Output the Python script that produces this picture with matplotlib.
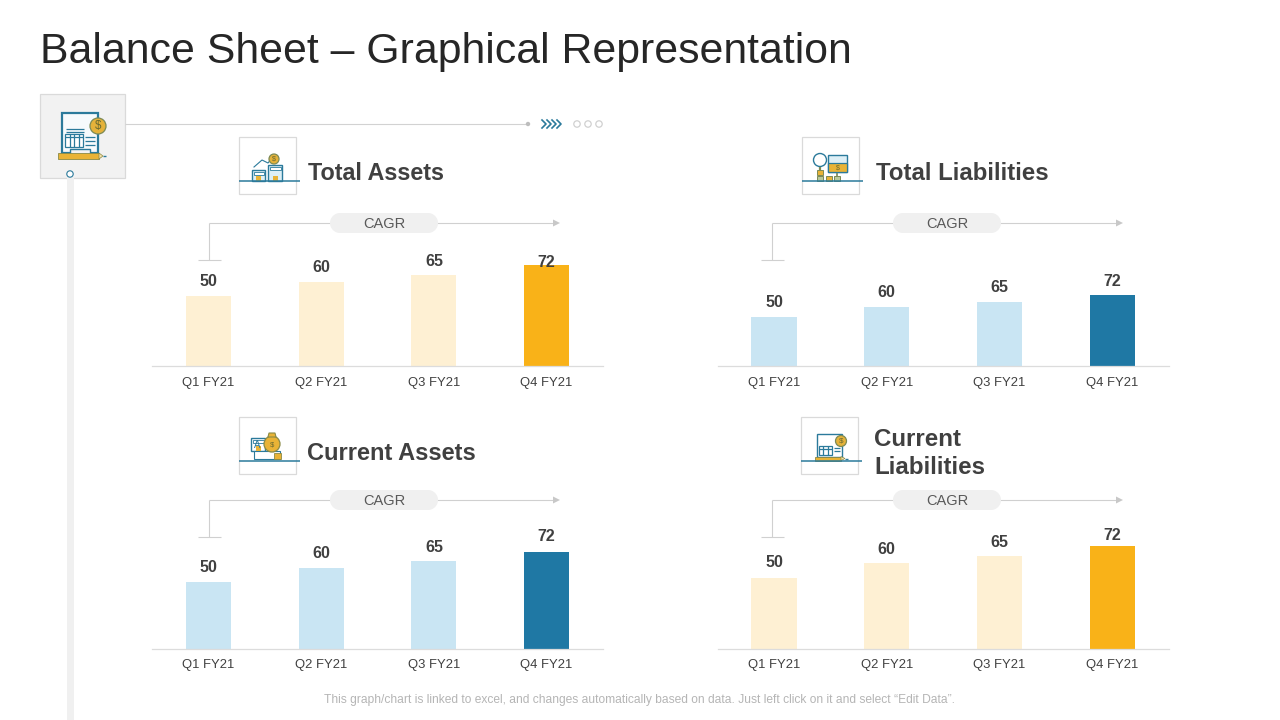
import matplotlib
matplotlib.use("Agg")
import matplotlib.pyplot as plt
from matplotlib.patches import Rectangle, Circle, Polygon

plt.rcParams['font.family'] = ['Liberation Sans', 'DejaVu Sans']

# Chart data
quarters = ["Q1 FY21", "Q2 FY21", "Q3 FY21", "Q4 FY21"]
total_assets = [50, 60, 65, 72]
total_liabilities = [50, 60, 65, 72]
current_assets = [50, 60, 65, 72]
current_liabilities = [50, 60, 65, 72]

GOLD = "#F9B218"
GOLD_LIGHT = "#FEF0D3"
BLUE = "#1F78A4"
BLUE_LIGHT = "#C9E5F3"
TEAL = "#2B7A9B"
TEXT = "#404040"
LINE = "#D4D4D4"

W, H = 1280, 720
fig = plt.figure(figsize=(12.8, 7.2), dpi=100, facecolor="white")

# Overlay in pixel coordinates for all the slide decoration
bg = fig.add_axes([0, 0, 1, 1])
bg.set_xlim(0, W)
bg.set_ylim(H, 0)
bg.axis("off")


def rect(x0, y0, x1, y1, fc="none", ec="none", lw=1.0, z=2):
    bg.add_patch(Rectangle((x0, y0), x1 - x0, y1 - y0, facecolor=fc, edgecolor=ec, linewidth=lw, zorder=z))


def line(xs, ys, color=LINE, lw=0.8, z=2):
    bg.plot(xs, ys, color=color, lw=lw, zorder=z, solid_capstyle="butt")


def coin(x, y, r):
    bg.add_patch(Circle((x, y), r, facecolor="#E5B23A", edgecolor="#7C8A55", linewidth=0.9, zorder=4))
    bg.text(x, y + 0.3, "$", ha="center", va="center", fontsize=r * 1.05, color="#6B6B30", zorder=5)


def document(x0, y0, x1, y1, lw=1.2, fc="#FFFFFF"):
    rect(x0, y0, x1, y1, fc=fc, ec=TEAL, lw=lw, z=3)


def pencil(x0, x1, y, h=3.0):
    rect(x0, y - h, x1, y + h, fc="#E9B336", ec="#8A8A45", lw=0.6, z=5)
    bg.add_patch(Polygon([(x1, y - h), (x1 + 4, y), (x1, y + h)], facecolor="#F4DFA8", edgecolor="#8A8A45", linewidth=0.5, zorder=5))
    line([x1 + 4, x1 + 7], [y, y], color=TEAL, lw=1.0, z=5)


def house(x0, y0, x1, y1, fc="#DDEFF6"):
    rect(x0, y0, x1, y1, fc=fc, ec=TEAL, lw=1.0, z=3)
    rect(x0 + 1.5, y0 + 2, x1 - 1.5, y0 + 5, fc="#FFFFFF", ec=TEAL, lw=0.6, z=4)
    rect((x0 + x1) / 2 - 2.5, y1 - 5, (x0 + x1) / 2 + 2.5, y1, fc="#E9B336", ec="none", z=4)


def bullet_lines(x0, x1, ys):
    for y in ys:
        line([x0, x1], [y, y], color=TEAL, lw=0.9, z=4)


def table(x0, y0, x1, y1, n=4):
    rect(x0, y0, x1, y1, fc="#FFFFFF", ec=TEAL, lw=0.9, z=4)
    step = (x1 - x0) / n
    for i in range(1, n):
        line([x0 + i * step] * 2, [y0, y1], color=TEAL, lw=0.9, z=4)
    line([x0, x1], [y0 + 3, y0 + 3], color=TEAL, lw=0.9, z=4)


def icon_frame(x0, y0):
    rect(x0, y0, x0 + 57, y0 + 57, fc="white", ec="#DADADA", lw=0.9)
    line([x0, x0 + 61], [y0 + 44, y0 + 44], color=TEAL, lw=1.1, z=6)


# Big report icon at the top of the timeline
rect(40, 94, 124.5, 178, fc="#F2F2F2", ec="#DADADA", lw=0.9)
document(61.5, 112.5, 98, 153, lw=1.6, fc="#F6FAFC")
rect(66, 117, 84, 125, fc="#E9B336")
bullet_lines(66, 84, [129, 132])
table(65, 134, 83, 147)
bullet_lines(85, 95, [137, 141, 145])
coin(98, 126, 8)
rect(70, 149, 90, 155, fc="#F2F2F2", ec=TEAL, lw=1.0, z=4)
pencil(58, 99, 156)

# Vertical timeline and its connector
rect(67, 178, 74, 720, fc="#F0F0F0")
bg.add_patch(Circle((70, 174), 3.2, facecolor="white", edgecolor=TEAL, linewidth=0.8, zorder=5))
line([125, 528], [124, 124], color="#D2D2D2")
bg.add_patch(Circle((528, 124), 2.2, facecolor="#BDBDBD", edgecolor="none", zorder=3))
for x in [542, 547, 552, 557]:
    bg.plot([x, x + 4, x], [120, 124, 128], color=TEAL, lw=1.2, zorder=3)
for x in [577, 588, 599]:
    bg.add_patch(Circle((x, 124), 3.2, facecolor="white", edgecolor="#D0D0D0", linewidth=0.9, zorder=3))

# Total Assets icon
icon_frame(239, 137)
house(252, 170, 265, 181)
house(268, 165, 282, 181)
bg.plot([254, 262, 268, 272], [167, 160, 163, 158], color=TEAL, lw=0.8, zorder=3)
coin(274, 159, 5)

# Total Liabilities icon
icon_frame(802, 137)
bg.add_patch(Circle((820, 160), 6.5, facecolor="white", edgecolor=TEAL, linewidth=1.0, zorder=3))
line([820, 820], [166.5, 178], color="#7C8A55", lw=1.6, z=3)
rect(817, 170, 823, 175, fc="#E9B336", ec="#7C8A55", lw=0.7, z=4)
rect(817, 176, 823, 181, fc="#B9C99A", ec="#7C8A55", lw=0.7, z=4)
rect(826, 176, 832, 181, fc="#E9B336", ec="#7C8A55", lw=0.7, z=4)
rect(834, 176, 840, 181, fc="#B9C99A", ec="#7C8A55", lw=0.7, z=4)
rect(828, 155, 847, 172, fc="#DDEFF6", ec=TEAL, lw=1.0, z=3)
rect(828, 163, 847, 172, fc="#E9B336", ec=TEAL, lw=0.9, z=4)
line([837, 837], [172, 178], color="#7C8A55", lw=1.2, z=3)
bg.text(837.5, 167.5, "$", ha="center", va="center", fontsize=5, color="#6B6B30", zorder=5)

# Current Assets icon
icon_frame(239, 417)
house(251, 438, 265, 451, fc="#FFFFFF")
bg.text(257, 445, "A", ha="center", va="center", fontsize=7, color=TEAL, zorder=5)
bg.add_patch(Circle((272, 444), 8, facecolor="#E9B336", edgecolor="#8A8A45", linewidth=0.9, zorder=5))
bg.add_patch(Polygon([(268, 437), (269, 433), (275, 433), (276, 437)], facecolor="#E9B336", edgecolor="#8A8A45", linewidth=0.8, zorder=5))
bg.text(272, 445, "$", ha="center", va="center", fontsize=5.5, color="#6B6B30", zorder=6)
rect(254, 451, 280, 459, fc="#FFFFFF", ec=TEAL, lw=0.8, z=3)
rect(274, 453, 281, 459, fc="#E9B336", ec="#8A8A45", lw=0.6, z=4)

# Current Liabilities icon
icon_frame(801, 417)
document(817, 434, 842, 457, lw=1.0)
rect(819, 437, 835, 442, fc="#E9B336")
table(819, 446, 832, 455, n=3)
bullet_lines(834, 840, [448, 451])
coin(841, 441, 5.5)
pencil(815, 841, 458.5, h=2)

# Panel layout: axes position, pixels per unit, label offsets
panels = [
    {"x0": 152, "base": 366, "scale": 1.40, "vals": total_assets, "dark": GOLD, "light": GOLD_LIGHT,
     "label_gap": [14, 14, 13, 3], "pad": 7.8},
    {"x0": 717.6, "base": 366, "scale": 0.985, "vals": total_liabilities, "dark": BLUE, "light": BLUE_LIGHT,
     "label_gap": [14, 14, 14, 14], "pad": 7.8},
    {"x0": 152, "base": 649, "scale": 1.35, "vals": current_assets, "dark": BLUE, "light": BLUE_LIGHT,
     "label_gap": [14, 14, 14, 15], "pad": 7.1},
    {"x0": 717.6, "base": 649, "scale": 1.43, "vals": current_liabilities, "dark": GOLD, "light": GOLD_LIGHT,
     "label_gap": [15, 14, 14, 11], "pad": 7.1},
]

AX_W, AX_H = 451, 130
for p in panels:
    ax = fig.add_axes([p["x0"] / W, 1 - p["base"] / H, AX_W / W, AX_H / H])
    ax.patch.set_alpha(0)
    xs = list(range(len(quarters)))
    colors = [p["light"]] * 3 + [p["dark"]]
    bars = ax.bar(xs, p["vals"], width=0.4, color=colors, zorder=2)
    ax.set_xlim(-0.5, 3.5)
    ax.set_ylim(0, AX_H / p["scale"])
    ax.set_xticks(xs)
    ax.set_xticklabels(quarters, fontsize=9.4, color=TEXT)
    ax.tick_params(axis="x", length=0, pad=p["pad"])
    ax.set_yticks([])
    for s in ["top", "left", "right"]:
        ax.spines[s].set_visible(False)
    ax.spines["bottom"].set_color("#DCDCDC")
    ax.spines["bottom"].set_linewidth(0.9)
    for b, v, gap in zip(bars, p["vals"], p["label_gap"]):
        ax.annotate(str(v), (b.get_x() + b.get_width() / 2, v), xytext=(0, gap * 0.72), textcoords="offset points",
                    ha="center", va="center", fontsize=11.5, fontweight="bold", color=TEXT, zorder=5)

# CAGR brackets
for bx, y, pill0 in [(209, 223, 330), (772, 223, 893), (209, 500, 330), (772, 500, 893)]:
    arrow_end = bx + 351
    line([bx, bx], [y, y + 37], color="#D0D0D0")
    line([bx - 11, bx + 12], [y + 37, y + 37], color="#D0D0D0")
    line([bx, arrow_end - 4], [y, y], color="#D0D0D0")
    bg.add_patch(Polygon([(arrow_end - 7, y - 3.5), (arrow_end, y), (arrow_end - 7, y + 3.5)], facecolor="#C8C8C8", edgecolor="none", zorder=3))
    rect(pill0 + 10, y - 10, pill0 + 98, y + 10, fc="#F0F0F0", z=3)
    bg.add_patch(Circle((pill0 + 10, y), 10, facecolor="#F0F0F0", edgecolor="none", zorder=3))
    bg.add_patch(Circle((pill0 + 98, y), 10, facecolor="#F0F0F0", edgecolor="none", zorder=3))
    bg.text(pill0 + 54, y + 0.8, "CAGR", ha="center", va="center", fontsize=10.5, color="#595959", zorder=5)

# Headings
heading = dict(fontweight="bold", color=TEXT, va="center", ha="left")
bg.text(308.5, 174, "Total Assets", fontsize=16.8, **heading)
bg.text(876, 174, "Total Liabilities", fontsize=17.3, **heading)
bg.text(307, 453, "Current Assets", fontsize=17.0, **heading)
bg.text(874, 439, "Current", fontsize=17.4, **heading)
bg.text(874, 468, "Liabilities", fontsize=17.4, **heading)

bg.text(39.5, 51.5, "Balance Sheet – Graphical Representation", fontsize=30.8, color="#262626", va="center", ha="left")
bg.text(639.5, 700.5, "This graph/chart is linked to excel, and changes automatically based on data. Just left click on it and select “Edit Data”.",
        fontsize=8.65, color="#B5B5B5", va="center", ha="center")

fig.savefig("out.png", dpi=100)
